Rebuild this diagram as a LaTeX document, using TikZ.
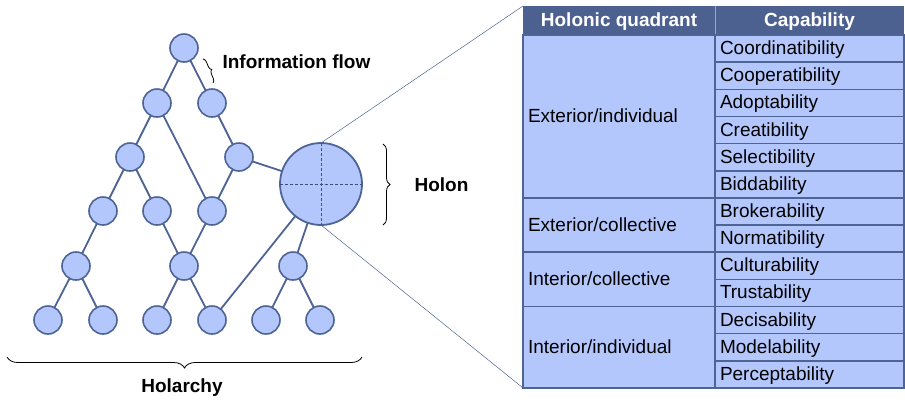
\documentclass[tikz,border=0pt]{standalone}
\usepackage{fontspec}
\setmainfont{Liberation Sans}
\usetikzlibrary{decorations.pathreplacing}

\definecolor{nodefill}{RGB}{179,199,252}
\definecolor{edgeblue}{RGB}{78,100,148}
\definecolor{headblue}{RGB}{77,97,145}
\definecolor{headsep}{RGB}{150,166,200}

\begin{document}
\begin{tikzpicture}[x=1pt,y=-1pt,
  agent/.style={shape=circle, minimum size=28pt, inner sep=0pt, outer sep=0pt, draw=edgeblue, fill=nodefill, line width=1.6pt},
  holon/.style={shape=circle, minimum size=82pt, inner sep=0pt, outer sep=0pt, draw=edgeblue, fill=nodefill, line width=1.8pt},
  link/.style={draw=edgeblue, line width=1.8pt},
  zoomline/.style={draw=edgeblue, line width=0.5pt},
  quarter/.style={draw=edgeblue!80!black, line width=0.5pt, densely dashed},
  brc/.style={decorate, decoration={brace, amplitude=#1}, line width=0.8pt},
  lbl/.style={font=\fontsize{19}{22}\selectfont\bfseries},
  headcell/.style={shape=rectangle, fill=headblue, text=white, inner sep=0pt, outer sep=0pt, minimum height=29pt, anchor=north west, text height=15pt, text depth=3pt, font=\fontsize{19}{22}\selectfont\bfseries},
  tabcell/.style={shape=rectangle, draw=edgeblue, fill=nodefill, line width=1.5pt, inner xsep=5pt, inner ysep=0pt, outer sep=0pt, align=left, anchor=north west, text height=15pt, text depth=3pt, font=\fontsize{19}{22}\selectfont},
  quadcell/.style={tabcell, text width=182pt},
  capcell/.style={tabcell, text width=179pt, minimum height=27.15pt}]
\useasboundingbox (0,0) rectangle (905,400);

% holarchy
\path (184,48) node (N1) [agent] {};
\path (157,103) node (N21) [agent] {};
\path (212,103) node (N22) [agent] {};
\path (130,157) node (N31) [agent] {};
\path (239,157) node (N32) [agent] {};
\path (103,211) node (N41) [agent] {};
\path (157,211) node (N42) [agent] {};
\path (212,211) node (N43) [agent] {};
\path (76,266) node (N51) [agent] {};
\path (184,266) node (N52) [agent] {};
\path (293,266) node (N53) [agent] {};
\path (48,320) node (N61) [agent] {};
\path (103,320) node (N62) [agent] {};
\path (157,320) node (N63) [agent] {};
\path (212,320) node (N64) [agent] {};
\path (266,320) node (N65) [agent] {};
\path (320,320) node (N66) [agent] {};

\path (321,184) node (H) [holon] {};
\draw[quarter] (H.north) -- (H.south);
\draw[quarter] (H.west) -- (H.east);

\foreach \a/\b in {N1/N21, N1/N22, N21/N31, N21/N43, N22/N32, N32/N43, N32/H,
  N31/N41, N31/N42, N41/N51, N42/N52, N43/N52, N51/N61, N51/N62,
  N52/N63, N52/N64, N64/H, H/N53, N53/N65, N53/N66}
  \draw[link] (\a) -- (\b);

% braces and labels
\coordinate (F1) at (203,59);
\coordinate (F2) at (213,83);
\draw[brc=4pt] (F1) -- (F2);
\path (219,62) node (flow) [lbl, anchor=west] {Information flow};

\coordinate (B1) at (383,144);
\coordinate (B2) at (383,225);
\draw[brc=7pt] (B1) -- (B2);
\path (411,185) node (holonlbl) [lbl, anchor=west] {Holon};

\coordinate (A1) at (362,357);
\coordinate (A2) at (7,357);
\draw[brc=11pt] (A1) -- (A2);
\path (182,388) node (holarchy) [lbl] {Holarchy};

% table
\path (523,6) node (hdrQ) [headcell, minimum width=192pt] {Holonic quadrant};
\path (715,6) node (hdrC) [headcell, minimum width=189pt] {Capability};
\draw[headsep, line width=0.8pt] (hdrQ.north east) -- (hdrQ.south east);

\path (523,35) node (Q1) [quadcell, minimum height=162.9pt] {Exterior/individual};
\path (523,197.9) node (Q2) [quadcell, minimum height=54.3pt] {Exterior/collective};
\path (523,252.2) node (Q3) [quadcell, minimum height=54.3pt] {Interior/collective};
\path (523,306.5) node (Q4) [quadcell, minimum height=81.45pt] {Interior/individual};

\foreach \cp [count=\i from 0] in {Coordinatibility, Cooperatibility, Adoptability,
  Creatibility, Selectibility, Biddability, Brokerability, Normatibility,
  Culturability, Trustability, Decisability, Modelability, Perceptability}
  \path (715,35+\i*27.15) node (C\i) [capcell] {\cp};

\draw[zoomline] (H.north) -- (hdrQ.north west);
\draw[zoomline] (H.south) -- (Q4.south west);

\end{tikzpicture}
\end{document}
